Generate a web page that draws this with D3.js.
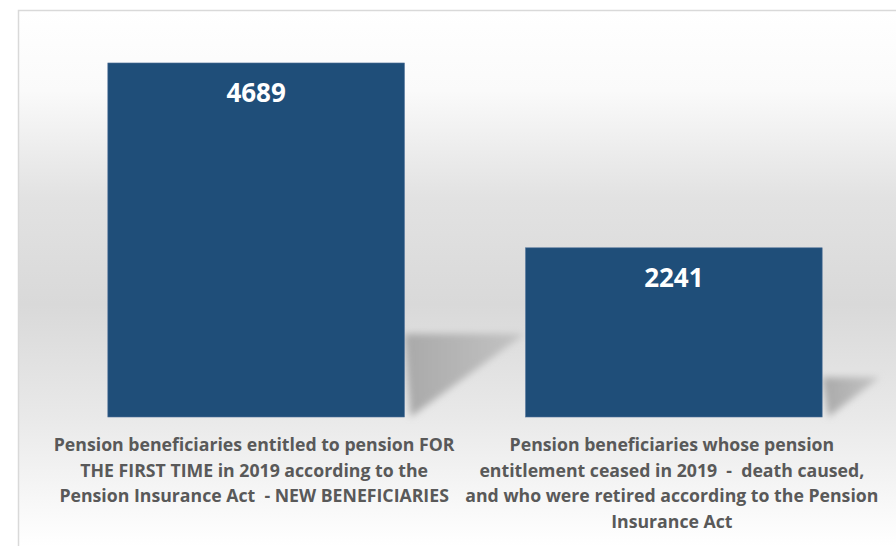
<!DOCTYPE html>
<html>
<head>
<meta charset="utf-8">
<script src="https://cdn.jsdelivr.net/npm/d3@7"></script>
<style>
  body { margin: 0; background: #fff; }
  svg { display: block; }
  text { font-family: "Open Sans", sans-serif; font-weight: bold; }
</style>
</head>
<body>
<svg id="body" width="896" height="546"></svg>
<script>
// chart data
let categories = ["new", "ceased"];
let values = [4689, 2241];
let categoryLines = [
    ["Pension beneficiaries entitled to pension FOR",
     "THE FIRST TIME in 2019 according to the",
     "Pension Insurance Act  - NEW BENEFICIARIES"],
    ["Pension beneficiaries whose pension",
     "entitlement ceased in 2019  -  death caused,",
     "and who were retired according to the Pension",
     "Insurance Act"]
];

let svg = d3.select("#body");
let defs = svg.append("defs");

// background gradient of the chart area
let bg = defs.append("linearGradient")
    .attr("id", "bgGrad")
    .attr("gradientUnits", "userSpaceOnUse")
    .attr("x1", 0).attr("y1", 10)
    .attr("x2", 0).attr("y2", 546);
[[0, "#ffffff"], [0.15, "#fafafa"], [0.35, "#e2e2e2"], [0.55, "#d9d9d9"],
 [0.76, "#e9e9e9"], [1, "#ffffff"]]
    .forEach(s => bg.append("stop").attr("offset", s[0]).attr("stop-color", s[1]));

let blur = defs.append("filter")
    .attr("id", "shadowBlur")
    .attr("x", "-20%").attr("y", "-20%")
    .attr("width", "140%").attr("height", "140%");
blur.append("feGaussianBlur").attr("stdDeviation", 3.5);

let shGrad = defs.append("linearGradient")
    .attr("id", "shGrad")
    .attr("x1", 0).attr("y1", 0).attr("x2", 1).attr("y2", 0);
shGrad.append("stop").attr("offset", 0).attr("stop-color", "#a9a9a9");
shGrad.append("stop").attr("offset", 1).attr("stop-color", "#c4c4c4");

svg.append("rect")
    .attr("x", 18.5).attr("y", 10.5)
    .attr("width", 900).attr("height", 560)
    .style("fill", "url(#bgGrad)")
    .style("stroke", "#d9d9d9")
    .style("stroke-width", 1.5);

let xScale = d3.scaleBand()
    .domain(categories)
    .range([41, 889])
    .paddingInner(0.29)
    .paddingOuter(0.16);

let yScale = d3.scaleLinear()
    .domain([0, 5000])
    .range([417, 39.5]);

let base = yScale(0);

// perspective shadows behind the bars
svg.append("g")
    .selectAll("polygon")
    .data(values)
    .enter()
    .append("polygon")
    .attr("points", (d, i) => {
        let h = base - yScale(d);
        let xr = xScale(categories[i]) + xScale.bandwidth();
        let top = base - 0.235 * h;
        return [[xr, top], [xr + 0.34 * h, top], [xr + 6, base]].map(p => p.join(",")).join(" ");
    })
    .style("fill", "url(#shGrad)")
    .attr("filter", "url(#shadowBlur)");

svg.append("g")
    .selectAll("rect")
    .data(values)
    .enter()
    .append("rect")
    .attr("x", (d, i) => xScale(categories[i]))
    .attr("y", d => yScale(d))
    .attr("width", xScale.bandwidth())
    .attr("height", d => base - yScale(d))
    .style("fill", "#1f4e79")
    .style("stroke", "#4f7198")
    .style("stroke-width", 0.6);

svg.append("g")
    .selectAll("text")
    .data(values)
    .enter()
    .append("text")
    .attr("x", (d, i) => xScale(categories[i]) + xScale.bandwidth() / 2)
    .attr("y", d => yScale(d) + 39)
    .attr("text-anchor", "middle")
    .style("fill", "#ffffff")
    .style("font-size", "26px")
    .text(d => d);

let labels = svg.append("g")
    .selectAll("text")
    .data(categoryLines)
    .enter()
    .append("text")
    .attr("text-anchor", "middle")
    .style("fill", "#595959")
    .style("font-size", "17.7px")
    .style("white-space", "pre");

labels.selectAll("tspan")
    .data((d, i) => d.map(line => ({line, i})))
    .enter()
    .append("tspan")
    .attr("x", d => xScale(categories[d.i]) + xScale.bandwidth() / 2 - 2)
    .attr("y", (d, j) => 451 + j * 25.7)
    .text(d => d.line);
</script>
</body>
</html>
